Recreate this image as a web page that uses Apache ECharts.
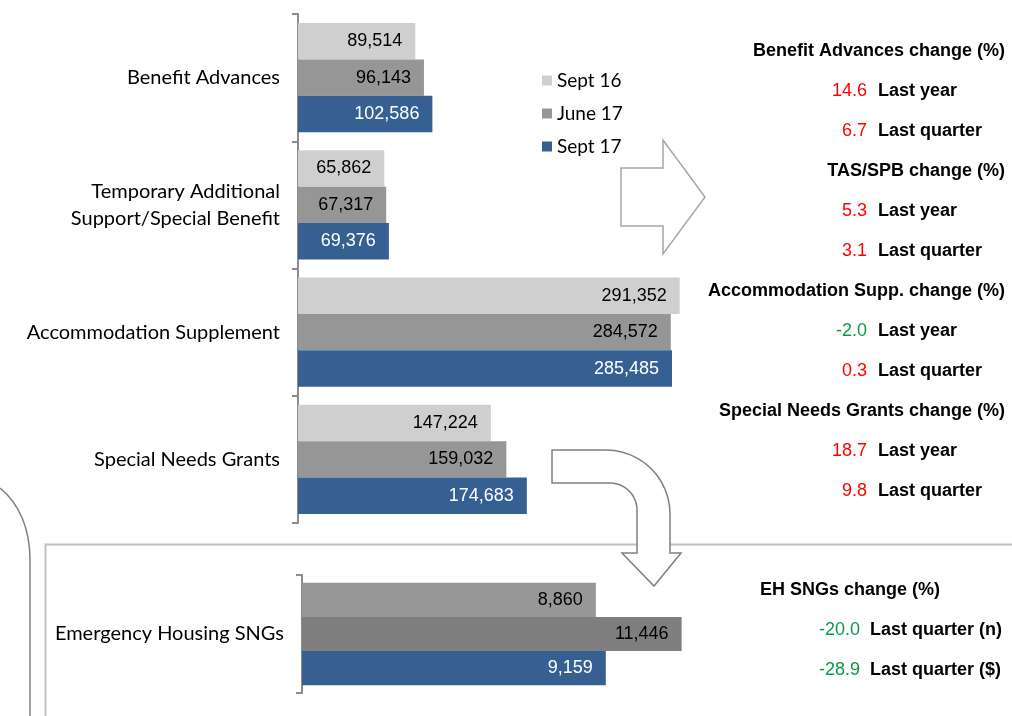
<!DOCTYPE html>
<html>
<head>
<meta charset="utf-8">
<script src="https://cdn.jsdelivr.net/npm/echarts@6/dist/echarts.min.js"></script>
<style>
  html, body { margin: 0; padding: 0; background: #fff; }
  #chart { width: 1012px; height: 716px; }
</style>
</head>
<body>
<div id="chart"></div>
<script>
// main hardship grants, number of grants
const categories = ['Benefit Advances', 'Temporary Additional\nSupport/Special Benefit', 'Accommodation Supplement', 'Special Needs Grants'];
const seriesNames = ['Sept 16', 'June 17', 'Sept 17'];
const sept16 = [89514, 65862, 291352, 147224];
const june17 = [96143, 67317, 284572, 159032];
const sept17 = [102586, 69376, 285485, 174683];

// emergency housing special needs grants
const ehCategory = ['Emergency Housing SNGs'];
const ehSept16 = [8860];
const ehJune17 = [11446];
const ehSept17 = [9159];

// change panel on the right
const changeTitles = ['Benefit Advances change (%)', 'TAS/SPB change (%)', 'Accommodation Supp. change (%)', 'Special Needs Grants change (%)'];
const changeLastYear = [14.6, 5.3, -2.0, 18.7];
const changeLastQuarter = [6.7, 3.1, 0.3, 9.8];
const ehTitle = 'EH SNGs change (%)';
const ehChanges = [-20.0, -28.9];
const ehChangeLabels = ['Last quarter (n)', 'Last quarter ($)'];

const colors = ['#cfcfcf', '#969696', '#366092'];
const ehColors = ['#979797', '#7f7f7f', '#366092'];
const catFont = 'Lato, "Open Sans", sans-serif';
const numFont = '"Liberation Sans", Arial, sans-serif';

const fmt = v => v.toLocaleString('en-US');
const pctColor = v => v > 0 ? '#ff0000' : '#0a9a4a';

function barSeries(name, data, color, idx, labelColor) {
    return {
        name: name,
        type: 'bar',
        xAxisIndex: idx,
        yAxisIndex: idx,
        data: data,
        barGap: '0%',
        barCategoryGap: idx === 0 ? '14%' : '13%',
        itemStyle: {color: color},
        label: {
            show: true,
            position: 'insideRight',
            distance: 13,
            color: labelColor,
            fontFamily: numFont,
            fontSize: 18,
            formatter: p => fmt(p.value)
        },
        emphasis: {disabled: true}
    };
}

function txt(x, y, text, color, align, bold) {
    return {
        type: 'text',
        x: x,
        y: y,
        silent: true,
        style: {
            text: text,
            fill: color,
            font: (bold ? 'bold ' : '') + '18px "Liberation Sans", Arial, sans-serif',
            align: align,
            verticalAlign: 'middle'
        }
    };
}

const panel = [];
changeTitles.forEach((t, i) => {
    const y0 = 51 + i * 120;
    panel.push(txt(1005, y0, t, '#000', 'right', true));
    panel.push(txt(867, y0 + 40, changeLastYear[i].toFixed(1), pctColor(changeLastYear[i]), 'right', false));
    panel.push(txt(878, y0 + 40, 'Last year', '#000', 'left', true));
    panel.push(txt(867, y0 + 80, changeLastQuarter[i].toFixed(1), pctColor(changeLastQuarter[i]), 'right', false));
    panel.push(txt(878, y0 + 80, 'Last quarter', '#000', 'left', true));
});
panel.push(txt(940, 590, ehTitle, '#000', 'right', true));
ehChanges.forEach((v, i) => {
    panel.push(txt(860, 630 + i * 40, v.toFixed(1), pctColor(v), 'right', false));
    panel.push(txt(870, 630 + i * 40, ehChangeLabels[i], '#000', 'left', true));
});

// quarter arc points, for the bent arrow outline
function arc(cx, cy, r, a0, a1) {
    const pts = [];
    for (let k = 0; k <= 12; k++) {
        const a = (a0 + (a1 - a0) * k / 12) * Math.PI / 180;
        pts.push([cx + r * Math.cos(a), cy + r * Math.sin(a)]);
    }
    return pts;
}
const bentArrow = [[552, 450]]
    .concat(arc(606, 514, 64, -90, 0))
    .concat([[670, 553], [681, 553], [654, 586], [622, 553], [637, 553]])
    .concat(arc(610, 510, 27, 0, -90))
    .concat([[552, 483]]);

const shapes = [
    // outer rounded frame edge on the left
    {
        type: 'bezierCurve', silent: true,
        shape: {x1: 0, y1: 488, cpx1: 20, cpy1: 504, cpx2: 30, cpy2: 530, x2: 30, y2: 560},
        style: {fill: null, stroke: '#808080', lineWidth: 1.5}
    },
    {
        type: 'line', silent: true,
        shape: {x1: 30, y1: 560, x2: 30, y2: 720},
        style: {stroke: '#808080', lineWidth: 1.5}
    },
    // box around the EH chart
    {
        type: 'polyline', silent: true,
        shape: {points: [[45.5, 720], [45.5, 544.5], [1015, 544.5]]},
        style: {fill: null, stroke: '#c0c0c0', lineWidth: 2}
    },
    // right block arrow
    {
        type: 'polygon', silent: true,
        shape: {points: [[621, 168], [663, 168], [663, 140], [705, 197], [663, 254], [663, 226], [621, 226]]},
        style: {fill: '#fff', stroke: '#a6a6a6', lineWidth: 1.5}
    },
    // curved arrow down to EH box
    {
        type: 'polygon', silent: true,
        shape: {points: bentArrow},
        style: {fill: '#fff', stroke: '#808080', lineWidth: 1.5}
    }
];

const chart = echarts.init(document.getElementById('chart'));
chart.setOption({
    animation: false,
    backgroundColor: '#fff',
    legend: {
        left: 537,
        top: 66,
        orient: 'vertical',
        icon: 'rect',
        itemWidth: 10,
        itemHeight: 10,
        itemGap: 14,
        data: seriesNames,
        selectedMode: false,
        textStyle: {fontFamily: catFont, fontSize: 19, color: '#000', padding: [0, 0, 0, 0]}
    },
    grid: [
        {left: 298, top: 14, width: 393, height: 509},
        {left: 302, top: 575, width: 398, height: 118}
    ],
    xAxis: [
        {gridIndex: 0, type: 'value', min: 0, max: 300000, show: false},
        {gridIndex: 1, type: 'value', min: 0, max: 12000, show: false}
    ],
    yAxis: [0, 1].map(i => ({
        gridIndex: i,
        type: 'category',
        inverse: true,
        data: i === 0 ? categories : ehCategory,
        axisLine: {lineStyle: {color: '#8c8c8c', width: 2}},
        axisTick: {show: true, length: 6, lineStyle: {color: '#8c8c8c', width: 2}},
        axisLabel: {
            color: '#000',
            fontFamily: catFont,
            fontSize: 20,
            margin: 18,
            lineHeight: 27
        },
        splitLine: {show: false}
    })),
    series: [
        barSeries(seriesNames[0], sept16, colors[0], 0, '#000'),
        barSeries(seriesNames[1], june17, colors[1], 0, '#000'),
        barSeries(seriesNames[2], sept17, colors[2], 0, '#fff'),
        barSeries('EH ' + seriesNames[0], ehSept16, ehColors[0], 1, '#000'),
        barSeries('EH ' + seriesNames[1], ehJune17, ehColors[1], 1, '#000'),
        barSeries('EH ' + seriesNames[2], ehSept17, ehColors[2], 1, '#fff')
    ],
    graphic: shapes.concat(panel)
});
</script>
</body>
</html>
